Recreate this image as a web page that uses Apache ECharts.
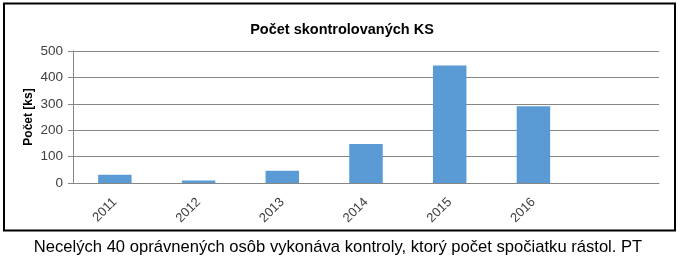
<!DOCTYPE html>
<html><head><meta charset="utf-8">
<script src="https://cdn.jsdelivr.net/npm/echarts@6/dist/echarts.min.js"></script>
<style>html,body{margin:0;padding:0;background:#fff}#c{width:684px;height:264px}</style>
</head><body><div id="c"></div>
<script>
const categories = ['2011','2012','2013','2014','2015','2016',''];
const counts = [31, 9, 46, 148, 445, 291, null];
const yTicks = [0, 100, 200, 300, 400, 500];
const titleText = 'Počet skontrolovaných KS';
const yAxisName = 'Počet [ks]';
const captionText = 'Necelých 40 oprávnených osôb vykonáva kontroly, ktorý počet spočiatku rástol. PT';

const chart = echarts.init(document.getElementById('c'), null, {renderer:'canvas'});
const font = 'Liberation Sans, Arial, sans-serif';
chart.setOption({
  animation:false,
  backgroundColor:'#fff',
  title:{text:titleText,left:337,top:17,textAlign:'center',
    textStyle:{fontFamily:font,fontWeight:'bold',fontSize:14.5,color:'#000'}},
  grid:{left:73,right:25,top:51,bottom:81,containLabel:false},
  xAxis:{type:'category',data:categories,
    axisLine:{lineStyle:{color:'#868686',width:1}},
    axisTick:{show:false},
    axisLabel:{rotate:45,fontFamily:font,fontSize:13,color:'#404040',margin:17,interval:0}},
  yAxis:{type:'value',min:yTicks[0],max:yTicks[yTicks.length-1],interval:100,
    name:yAxisName,nameLocation:'middle',nameGap:38,nameRotate:90,nameMoveOverlap:false,
    nameTextStyle:{fontFamily:font,fontWeight:'bold',fontSize:12,color:'#000'},
    axisLine:{show:true,lineStyle:{color:'#868686',width:1}},
    axisTick:{show:true,length:5,lineStyle:{color:'#868686'}},
    axisLabel:{fontFamily:font,fontSize:13.5,color:'#404040',margin:10},
    splitLine:{lineStyle:{color:'#868686',width:1}}},
  series:[{type:'bar',data:counts,barWidth:'40%',itemStyle:{color:'#5B9BD5'}}],
  graphic:[
    {type:'rect',shape:{x:4,y:3.5,width:671,height:227},style:{fill:'none',stroke:'#000',lineWidth:2},z:100},
    {type:'text',x:338,y:247,style:{text:captionText,fontFamily:font,fontSize:16.6,fill:'#000',align:'center',verticalAlign:'middle'}}
  ]
});
</script></body></html>
